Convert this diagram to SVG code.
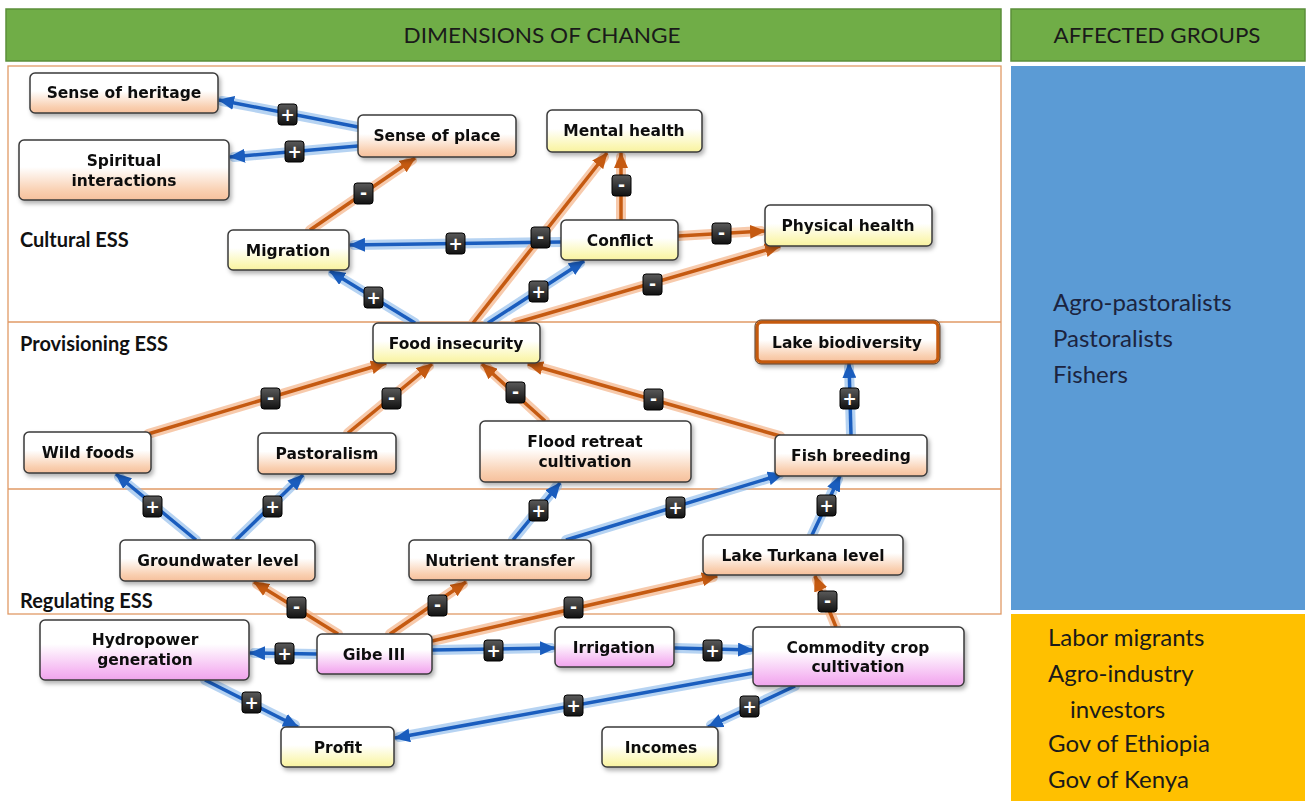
<svg xmlns="http://www.w3.org/2000/svg" width="1306" height="801" viewBox="0 0 1306 801">
<style>
.hdr{fill:#70AD47;stroke:#5B8F3A;stroke-width:1.5}
.hdrt{font-family:Lato,"Liberation Sans",sans-serif;font-size:22px;fill:#1a1a1a;text-anchor:middle}
.band{fill:none;stroke:#E09A66;stroke-width:1.3}
.sec{font-family:Lato,"Liberation Sans",sans-serif;font-weight:bold;font-size:20px;fill:#111}
.grp{font-family:Lato,"Liberation Sans",sans-serif;font-size:24px;fill:#1B2440}
.grp2{font-family:Lato,"Liberation Sans",sans-serif;font-size:24px;fill:#1a1a1a}
.node rect{stroke:#3a3a3a;stroke-width:1.5}
.node text{font-family:"DejaVu Sans",Verdana,sans-serif;font-weight:bold;font-size:15.5px;fill:#111;text-anchor:middle}
.peach{fill:url(#gPeach)}
.yel{fill:url(#gYel)}
.pink{fill:url(#gPink)}
.bg{fill:none;stroke-width:10;stroke-linecap:round;opacity:0.65}
.bgb{stroke:#8FBCEB}
.bgo{stroke:#F2AE80}
.cb{fill:none;stroke:#1A5DBE;stroke-width:3.5}
.co{fill:none;stroke:#C55A11;stroke-width:3.5}
.badge rect{fill:url(#gBadge);stroke:#000;stroke-width:1}
.badge text{font-family:"DejaVu Sans",sans-serif;font-weight:bold;font-size:17px;fill:#fff;text-anchor:middle}
</style>
<defs>
<linearGradient id="gPeach" x1="0" y1="0" x2="0" y2="1">
<stop offset="0" stop-color="#ffffff"/><stop offset="0.45" stop-color="#ffffff"/><stop offset="0.85" stop-color="#F9CFB0"/><stop offset="1" stop-color="#F6C09C"/>
</linearGradient>
<linearGradient id="gYel" x1="0" y1="0" x2="0" y2="1">
<stop offset="0" stop-color="#ffffff"/><stop offset="0.45" stop-color="#ffffff"/><stop offset="0.85" stop-color="#FBF7B6"/><stop offset="1" stop-color="#F8F2A0"/>
</linearGradient>
<linearGradient id="gPink" x1="0" y1="0" x2="0" y2="1">
<stop offset="0" stop-color="#ffffff"/><stop offset="0.4" stop-color="#ffffff"/><stop offset="0.85" stop-color="#F5B8F2"/><stop offset="1" stop-color="#EFA4EC"/>
</linearGradient>
<linearGradient id="gBadge" x1="0" y1="0" x2="0" y2="1">
<stop offset="0" stop-color="#5a5a5a"/><stop offset="1" stop-color="#111"/>
</linearGradient>
<filter id="sh" x="-10%" y="-20%" width="130%" height="150%">
<feDropShadow dx="2" dy="3" stdDeviation="2" flood-color="#000" flood-opacity="0.3"/>
</filter>
<marker id="ab" markerUnits="userSpaceOnUse" markerWidth="16" markerHeight="14" viewBox="0 0 16 14" refX="15" refY="7" orient="auto">
<path d="M0,0 L16,7 L0,14 z" fill="#1A5DBE"/>
</marker>
<marker id="ao" markerUnits="userSpaceOnUse" markerWidth="16" markerHeight="14" viewBox="0 0 16 14" refX="15" refY="7" orient="auto">
<path d="M0,0 L16,7 L0,14 z" fill="#C55A11"/>
</marker>
</defs>
<rect width="1306" height="801" fill="#fff"/>
<g id="headers">
<rect class="hdr" x="6" y="9" width="995" height="52"/>
<text class="hdrt" x="542" y="43" textLength="277" lengthAdjust="spacingAndGlyphs">DIMENSIONS OF CHANGE</text>
<rect class="hdr" x="1011" y="9" width="294" height="52"/>
<text class="hdrt" x="1157" y="43" textLength="207" lengthAdjust="spacingAndGlyphs">AFFECTED GROUPS</text>
</g>
<g id="bands">
<rect class="band" x="8" y="66" width="993" height="548"/>
<line class="band" x1="8" y1="322" x2="1001" y2="322"/>
<line class="band" x1="8" y1="489" x2="1001" y2="489"/>
<text class="sec" x="20" y="247">Cultural ESS</text>
<text class="sec" x="20" y="351">Provisioning ESS</text>
<text class="sec" x="20" y="608">Regulating ESS</text>
</g>
<g id="groups">
<rect x="1011" y="66" width="294" height="544" fill="#5B9BD5"/>
<text class="grp" x="1053" y="311">Agro-pastoralists</text>
<text class="grp" x="1053" y="347">Pastoralists</text>
<text class="grp" x="1053" y="383">Fishers</text>
<rect x="1011" y="614" width="294" height="187" fill="#FFC000"/>
<text class="grp2" x="1048" y="646">Labor migrants</text>
<text class="grp2" x="1048" y="682">Agro-industry</text>
<text class="grp2" x="1070" y="718">investors</text>
<text class="grp2" x="1048" y="752">Gov of Ethiopia</text>
<text class="grp2" x="1048" y="788">Gov of Kenya</text>
</g>
<g id="connectors">
<g id="glow">
<path class="bg bgb" d="M358,127 L222,101"/>
<path class="bg bgb" d="M358,146 L234,157"/>
<path class="bg bgo" d="M310,230 L412,160"/>
<path class="bg bgb" d="M561,242 L354,245"/>
<path class="bg bgb" d="M415,323 L333,273"/>
<path class="bg bgo" d="M473,323 L604,157"/>
<path class="bg bgo" d="M621,220 L621,157"/>
<path class="bg bgb" d="M488,323 L580,263"/>
<path class="bg bgo" d="M678,236 L761,231"/>
<path class="bg bgo" d="M515,323 L776,247"/>
<path class="bg bgo" d="M148,434 L382,364"/>
<path class="bg bgo" d="M348,433 L429,366"/>
<path class="bg bgo" d="M545,421 L485,366"/>
<path class="bg bgo" d="M780,436 L532,365"/>
<path class="bg bgb" d="M851,435 L849,367"/>
<path class="bg bgb" d="M196,540 L119,477"/>
<path class="bg bgb" d="M236,540 L300,478"/>
<path class="bg bgb" d="M513,540 L557,486"/>
<path class="bg bgb" d="M566,540 L779,475"/>
<path class="bg bgb" d="M812,535 L838,479"/>
<path class="bg bgo" d="M338,634 L257,584"/>
<path class="bg bgo" d="M390,634 L463,584"/>
<path class="bg bgo" d="M432,641 L713,577"/>
<path class="bg bgo" d="M836,627 L817,580"/>
<path class="bg bgb" d="M317,654 L254,653"/>
<path class="bg bgb" d="M432,650 L551,648"/>
<path class="bg bgb" d="M674,648 L749,650"/>
<path class="bg bgb" d="M205,680 L295,725"/>
<path class="bg bgb" d="M753,673 L399,737"/>
<path class="bg bgb" d="M795,686 L711,725"/>
</g>
<g id="lines">
<path class="cb" marker-end="url(#ab)" d="M358,127 L219,100"/>
<path class="cb" marker-end="url(#ab)" d="M358,146 L230,157"/>
<path class="co" marker-end="url(#ao)" d="M310,230 L415,158"/>
<path class="cb" marker-end="url(#ab)" d="M561,242 L350,245"/>
<path class="cb" marker-end="url(#ab)" d="M415,323 L330,271"/>
<path class="co" marker-end="url(#ao)" d="M473,323 L607,153"/>
<path class="co" marker-end="url(#ao)" d="M621,220 L621,153"/>
<path class="cb" marker-end="url(#ab)" d="M488,323 L584,261"/>
<path class="co" marker-end="url(#ao)" d="M678,236 L765,231"/>
<path class="co" marker-end="url(#ao)" d="M515,323 L780,246"/>
<path class="co" marker-end="url(#ao)" d="M148,434 L386,363"/>
<path class="co" marker-end="url(#ao)" d="M348,433 L432,364"/>
<path class="co" marker-end="url(#ao)" d="M545,421 L482,364"/>
<path class="co" marker-end="url(#ao)" d="M780,436 L528,364"/>
<path class="cb" marker-end="url(#ab)" d="M851,435 L849,363"/>
<path class="cb" marker-end="url(#ab)" d="M196,540 L116,474"/>
<path class="cb" marker-end="url(#ab)" d="M236,540 L303,475"/>
<path class="cb" marker-end="url(#ab)" d="M513,540 L560,483"/>
<path class="cb" marker-end="url(#ab)" d="M566,540 L783,474"/>
<path class="cb" marker-end="url(#ab)" d="M812,535 L840,476"/>
<path class="co" marker-end="url(#ao)" d="M338,634 L254,582"/>
<path class="co" marker-end="url(#ao)" d="M390,634 L466,582"/>
<path class="co" marker-end="url(#ao)" d="M432,641 L717,576"/>
<path class="co" marker-end="url(#ao)" d="M836,627 L815,576"/>
<path class="cb" marker-end="url(#ab)" d="M317,654 L250,653"/>
<path class="cb" marker-end="url(#ab)" d="M432,650 L555,648"/>
<path class="cb" marker-end="url(#ab)" d="M674,648 L753,650"/>
<path class="cb" marker-end="url(#ab)" d="M205,680 L298,727"/>
<path class="cb" marker-end="url(#ab)" d="M753,673 L395,738"/>
<path class="cb" marker-end="url(#ab)" d="M795,686 L708,727"/>
</g>
<g id="badges">
<g class="badge"><rect x="278" y="104" width="19" height="21" rx="3"/><text x="287.5" y="121">+</text></g>
<g class="badge"><rect x="285" y="141" width="19" height="21" rx="3"/><text x="294.5" y="158">+</text></g>
<g class="badge"><rect x="354" y="183" width="19" height="21" rx="3"/><text x="363.5" y="199">-</text></g>
<g class="badge"><rect x="446" y="233" width="19" height="21" rx="3"/><text x="455.5" y="250">+</text></g>
<g class="badge"><rect x="364" y="287" width="19" height="21" rx="3"/><text x="373.5" y="304">+</text></g>
<g class="badge"><rect x="531" y="227" width="19" height="21" rx="3"/><text x="540.5" y="243">-</text></g>
<g class="badge"><rect x="612" y="175" width="19" height="21" rx="3"/><text x="621.5" y="191">-</text></g>
<g class="badge"><rect x="529" y="281" width="19" height="21" rx="3"/><text x="538.5" y="298">+</text></g>
<g class="badge"><rect x="712" y="223" width="19" height="21" rx="3"/><text x="721.5" y="239">-</text></g>
<g class="badge"><rect x="643" y="274" width="19" height="21" rx="3"/><text x="652.5" y="290">-</text></g>
<g class="badge"><rect x="261" y="388" width="19" height="21" rx="3"/><text x="270.5" y="404">-</text></g>
<g class="badge"><rect x="382" y="388" width="19" height="21" rx="3"/><text x="391.5" y="404">-</text></g>
<g class="badge"><rect x="506" y="382" width="19" height="21" rx="3"/><text x="515.5" y="398">-</text></g>
<g class="badge"><rect x="644" y="389" width="19" height="21" rx="3"/><text x="653.5" y="405">-</text></g>
<g class="badge"><rect x="840" y="388" width="19" height="21" rx="3"/><text x="849.5" y="405">+</text></g>
<g class="badge"><rect x="143" y="496" width="19" height="21" rx="3"/><text x="152.5" y="513">+</text></g>
<g class="badge"><rect x="263" y="496" width="19" height="21" rx="3"/><text x="272.5" y="513">+</text></g>
<g class="badge"><rect x="529" y="500" width="19" height="21" rx="3"/><text x="538.5" y="517">+</text></g>
<g class="badge"><rect x="666" y="497" width="19" height="21" rx="3"/><text x="675.5" y="514">+</text></g>
<g class="badge"><rect x="817" y="495" width="19" height="21" rx="3"/><text x="826.5" y="512">+</text></g>
<g class="badge"><rect x="287" y="597" width="19" height="21" rx="3"/><text x="296.5" y="613">-</text></g>
<g class="badge"><rect x="428" y="595" width="19" height="21" rx="3"/><text x="437.5" y="611">-</text></g>
<g class="badge"><rect x="564" y="597" width="19" height="21" rx="3"/><text x="573.5" y="613">-</text></g>
<g class="badge"><rect x="818" y="591" width="19" height="21" rx="3"/><text x="827.5" y="607">-</text></g>
<g class="badge"><rect x="275" y="643" width="19" height="21" rx="3"/><text x="284.5" y="660">+</text></g>
<g class="badge"><rect x="484" y="640" width="19" height="21" rx="3"/><text x="493.5" y="657">+</text></g>
<g class="badge"><rect x="703" y="640" width="19" height="21" rx="3"/><text x="712.5" y="657">+</text></g>
<g class="badge"><rect x="242" y="692" width="19" height="21" rx="3"/><text x="251.5" y="709">+</text></g>
<g class="badge"><rect x="564" y="695" width="19" height="21" rx="3"/><text x="573.5" y="712">+</text></g>
<g class="badge"><rect x="740" y="696" width="19" height="21" rx="3"/><text x="749.5" y="713">+</text></g>
</g>
</g>
<g id="n-heritage" class="node" filter="url(#sh)"><rect class="peach" x="30" y="73" width="188" height="40" rx="5"/><text x="124" y="98">Sense of heritage</text></g>
<g id="n-spiritual" class="node" filter="url(#sh)"><rect class="peach" x="19" y="140" width="210" height="60" rx="5"/><text x="124" y="166">Spiritual</text><text x="124" y="186">interactions</text></g>
<g id="n-place" class="node" filter="url(#sh)"><rect class="peach" x="358" y="115" width="158" height="42" rx="5"/><text x="437" y="141">Sense of place</text></g>
<g id="n-migration" class="node" filter="url(#sh)"><rect class="yel" x="228" y="230" width="121" height="40" rx="5"/><text x="288" y="256">Migration</text></g>
<g id="n-mental" class="node" filter="url(#sh)"><rect class="yel" x="547" y="110" width="155" height="42" rx="5"/><text x="624" y="136">Mental health</text></g>
<g id="n-conflict" class="node" filter="url(#sh)"><rect class="yel" x="561" y="220" width="117" height="40" rx="5"/><text x="620" y="246">Conflict</text></g>
<g id="n-physical" class="node" filter="url(#sh)"><rect class="yel" x="765" y="205" width="167" height="41" rx="5"/><text x="848" y="231">Physical health</text></g>
<g id="n-food" class="node" filter="url(#sh)"><rect class="yel" x="373" y="323" width="167" height="40" rx="5"/><text x="456" y="349">Food insecurity</text></g>
<g id="n-lakebio" class="node" filter="url(#sh)"><rect class="peach" x="757" y="322" width="181" height="40" rx="5" style="stroke:#C55A11;stroke-width:3.5"/><rect x="755" y="320" width="185" height="44" rx="6" fill="none" style="stroke:#5a3a20;stroke-width:1"/><text x="847" y="348">Lake biodiversity</text></g>
<g id="n-wild" class="node" filter="url(#sh)"><rect class="peach" x="24" y="432" width="127" height="41" rx="5"/><text x="88" y="458">Wild foods</text></g>
<g id="n-pastoralism" class="node" filter="url(#sh)"><rect class="peach" x="258" y="433" width="138" height="41" rx="5"/><text x="327" y="459">Pastoralism</text></g>
<g id="n-flood" class="node" filter="url(#sh)"><rect class="peach" x="480" y="421" width="211" height="61" rx="5"/><text x="585" y="447">Flood retreat</text><text x="585" y="467">cultivation</text></g>
<g id="n-fish" class="node" filter="url(#sh)"><rect class="peach" x="775" y="435" width="152" height="41" rx="5"/><text x="851" y="461">Fish breeding</text></g>
<g id="n-groundwater" class="node" filter="url(#sh)"><rect class="peach" x="120" y="540" width="195" height="41" rx="5"/><text x="218" y="566">Groundwater level</text></g>
<g id="n-nutrient" class="node" filter="url(#sh)"><rect class="peach" x="409" y="540" width="182" height="40" rx="5"/><text x="500" y="566">Nutrient transfer</text></g>
<g id="n-turkana" class="node" filter="url(#sh)"><rect class="peach" x="703" y="535" width="200" height="40" rx="5"/><text x="803" y="561">Lake Turkana level</text></g>
<g id="n-hydropower" class="node" filter="url(#sh)"><rect class="pink" x="40" y="620" width="209" height="60" rx="5"/><text x="145" y="645">Hydropower</text><text x="145" y="665">generation</text></g>
<g id="n-gibe" class="node" filter="url(#sh)"><rect class="pink" x="317" y="634" width="115" height="40" rx="5"/><text x="374" y="660">Gibe III</text></g>
<g id="n-irrigation" class="node" filter="url(#sh)"><rect class="pink" x="555" y="627" width="119" height="40" rx="5"/><text x="614" y="653">Irrigation</text></g>
<g id="n-commodity" class="node" filter="url(#sh)"><rect class="pink" x="753" y="627" width="211" height="59" rx="5"/><text x="858" y="653">Commodity crop</text><text x="858" y="672">cultivation</text></g>
<g id="n-profit" class="node" filter="url(#sh)"><rect class="yel" x="281" y="727" width="113" height="40" rx="5"/><text x="338" y="753">Profit</text></g>
<g id="n-incomes" class="node" filter="url(#sh)"><rect class="yel" x="602" y="727" width="116" height="40" rx="5"/><text x="661" y="753">Incomes</text></g>
</svg>
